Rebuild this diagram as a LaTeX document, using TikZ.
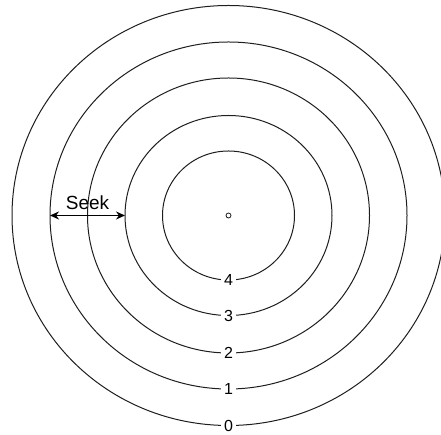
\documentclass[tikz,border=0pt]{standalone}
\usepackage{fontspec}
\setmainfont{Liberation Sans}
\usetikzlibrary{arrows.meta,shapes.geometric}
\definecolor{RingGray}{HTML}{1E1E1E}

\begin{document}
\begin{tikzpicture}[x=1pt,y=1pt,
  ring/.style={draw=RingGray,line width=1pt,ellipse,inner sep=0pt,outer sep=0pt},
  tracklabel/.style={fill=white,inner xsep=3.5pt,inner ysep=0.2pt,font=\fontsize{16}{16}\selectfont}]
  \useasboundingbox (0,0) rectangle (441,435);
  \coordinate (ctr) at (228.5,219.5);
  \node[ring,minimum width=433pt,minimum height=420pt] (ring0) at (ctr) {};
  \node[ring,minimum width=357pt,minimum height=347pt] (ring1) at (ctr) {};
  \node[ring,minimum width=282pt,minimum height=275pt] (ring2) at (ctr) {};
  \node[ring,minimum width=207pt,minimum height=200pt] (ring3) at (ctr) {};
  \node[ring,minimum width=132pt,minimum height=129pt] (ring4) at (ctr) {};
  \node[ring,line width=0.8pt,minimum size=5pt] (spindle) at (ctr) {};
  % track numbers sit on the bottom of each ring
  \node[tracklabel] (lab0) at (ring0.south) {0};
  \node[tracklabel] (lab1) at (ring1.south) {1};
  \node[tracklabel] (lab2) at (ring2.south) {2};
  \node[tracklabel] (lab3) at (ring3.south) {3};
  \node[tracklabel] (lab4) at (ring4.south) {4};
  % seek distance
  \draw[{Stealth[length=9pt,width=8pt]}-{Stealth[length=9pt,width=8pt]},line width=1.4pt] (ring1.west)
    -- node[above=2pt,font=\fontsize{19}{19}\selectfont] (seek) {Seek} (ring3.west);
\end{tikzpicture}
\end{document}
